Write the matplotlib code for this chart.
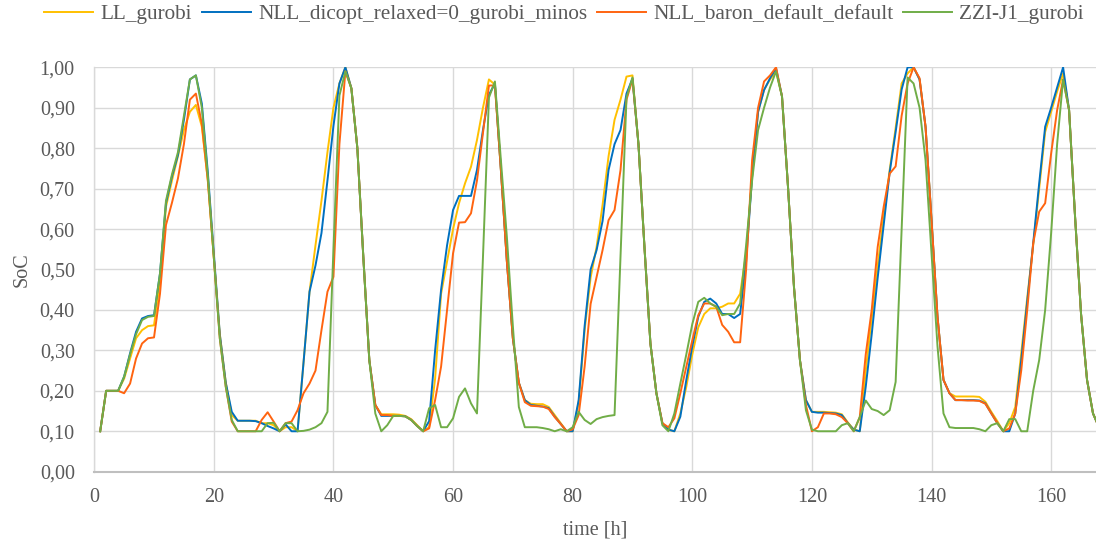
import matplotlib
matplotlib.use("Agg")
import matplotlib.pyplot as plt
from matplotlib.ticker import MultipleLocator, FuncFormatter

hours = list(range(1, 169))

ll_gurobi = [
    0.10, 0.20, 0.20, 0.20, 0.23, 0.28, 0.33, 0.35, 0.36, 0.362,
    0.47, 0.655, 0.72, 0.78, 0.845, 0.89, 0.907, 0.853, 0.72, 0.53,
    0.34, 0.22, 0.14, 0.126, 0.126, 0.126, 0.126, 0.12, 0.12, 0.115,
    0.10, 0.11, 0.11, 0.10, 0.27, 0.445, 0.56, 0.67, 0.79, 0.90,
    0.96, 1.00, 0.948, 0.80, 0.53, 0.276, 0.165, 0.142, 0.142, 0.142,
    0.141, 0.138, 0.13, 0.115, 0.10, 0.11, 0.23, 0.44, 0.52, 0.60,
    0.664, 0.713, 0.754, 0.82, 0.90, 0.97, 0.957, 0.746, 0.52, 0.33,
    0.22, 0.177, 0.168, 0.167, 0.167, 0.16, 0.14, 0.12, 0.10, 0.10,
    0.17, 0.35, 0.48, 0.556, 0.66, 0.78, 0.87, 0.92, 0.977, 0.98,
    0.81, 0.556, 0.317, 0.194, 0.12, 0.104, 0.10, 0.144, 0.21, 0.29,
    0.357, 0.39, 0.404, 0.404, 0.408, 0.416, 0.416, 0.44, 0.54, 0.73,
    0.89, 0.944, 0.97, 0.99, 0.928, 0.705, 0.457, 0.276, 0.177, 0.148,
    0.148, 0.148, 0.147, 0.146, 0.142, 0.122, 0.104, 0.10, 0.25, 0.38,
    0.51, 0.63, 0.746, 0.85, 0.96, 0.985, 1.00, 0.97, 0.853, 0.622,
    0.383, 0.227, 0.194, 0.186, 0.186, 0.186, 0.186, 0.185, 0.173, 0.148,
    0.125, 0.10, 0.12, 0.16, 0.293, 0.43, 0.56, 0.70, 0.84, 0.89,
    0.94, 0.985, 0.894, 0.63, 0.39, 0.227, 0.144, 0.11,
]

nll_dicopt = [
    0.10, 0.20, 0.20, 0.20, 0.235, 0.293, 0.346, 0.379, 0.385, 0.387,
    0.49, 0.664, 0.73, 0.783, 0.87, 0.97, 0.98, 0.91, 0.74, 0.54,
    0.34, 0.22, 0.148, 0.126, 0.126, 0.126, 0.125, 0.12, 0.113, 0.107,
    0.10, 0.117, 0.10, 0.10, 0.27, 0.445, 0.51, 0.59, 0.72, 0.855,
    0.96, 1.00, 0.948, 0.80, 0.53, 0.276, 0.165, 0.138, 0.138, 0.138,
    0.138, 0.137, 0.128, 0.113, 0.10, 0.125, 0.30, 0.45, 0.56, 0.647,
    0.682, 0.682, 0.682, 0.746, 0.845, 0.932, 0.96, 0.746, 0.52, 0.33,
    0.22, 0.177, 0.165, 0.163, 0.161, 0.157, 0.136, 0.118, 0.10, 0.10,
    0.177, 0.36, 0.50, 0.548, 0.62, 0.746, 0.81, 0.845, 0.935, 0.972,
    0.81, 0.556, 0.317, 0.194, 0.12, 0.104, 0.10, 0.136, 0.227, 0.31,
    0.383, 0.42, 0.428, 0.416, 0.39, 0.39, 0.38, 0.39, 0.52, 0.73,
    0.89, 0.944, 0.973, 0.998, 0.928, 0.705, 0.457, 0.276, 0.177, 0.148,
    0.146, 0.146, 0.145, 0.144, 0.14, 0.12, 0.104, 0.10, 0.21, 0.34,
    0.48, 0.61, 0.74, 0.84, 0.945, 1.00, 1.00, 0.97, 0.853, 0.622,
    0.383, 0.227, 0.194, 0.177, 0.177, 0.177, 0.177, 0.176, 0.169, 0.144,
    0.12, 0.10, 0.10, 0.144, 0.276, 0.42, 0.565, 0.713, 0.853, 0.90,
    0.95, 1.00, 0.894, 0.63, 0.39, 0.227, 0.144, 0.11,
]

nll_baron = [
    0.10, 0.20, 0.20, 0.20, 0.194, 0.218, 0.28, 0.317, 0.33, 0.332,
    0.44, 0.61, 0.665, 0.725, 0.81, 0.92, 0.935, 0.86, 0.72, 0.53,
    0.33, 0.21, 0.124, 0.10, 0.10, 0.10, 0.10, 0.128, 0.147, 0.124,
    0.10, 0.12, 0.124, 0.152, 0.194, 0.218, 0.25, 0.35, 0.445, 0.482,
    0.81, 0.99, 0.948, 0.80, 0.53, 0.276, 0.165, 0.14, 0.14, 0.138,
    0.138, 0.137, 0.128, 0.113, 0.10, 0.107, 0.177, 0.26, 0.40, 0.54,
    0.616, 0.617, 0.639, 0.72, 0.837, 0.955, 0.955, 0.746, 0.52, 0.33,
    0.22, 0.172, 0.163, 0.162, 0.161, 0.155, 0.135, 0.118, 0.10, 0.105,
    0.14, 0.26, 0.415, 0.482, 0.548, 0.622, 0.647, 0.746, 0.92, 0.97,
    0.81, 0.556, 0.317, 0.194, 0.12, 0.11, 0.132, 0.194, 0.26, 0.325,
    0.387, 0.416, 0.416, 0.408, 0.363, 0.346, 0.32, 0.32, 0.50, 0.77,
    0.90, 0.965, 0.98, 1.00, 0.928, 0.705, 0.457, 0.276, 0.165, 0.10,
    0.11, 0.144, 0.144, 0.142, 0.135, 0.12, 0.10, 0.135, 0.29, 0.40,
    0.556, 0.655, 0.737, 0.755, 0.88, 0.96, 1.00, 0.973, 0.853, 0.622,
    0.383, 0.227, 0.194, 0.177, 0.177, 0.176, 0.176, 0.175, 0.168, 0.144,
    0.12, 0.10, 0.107, 0.144, 0.25, 0.40, 0.565, 0.643, 0.664, 0.787,
    0.894, 0.97, 0.894, 0.63, 0.39, 0.227, 0.144, 0.11,
]

zzi_j1_gurobi = [
    0.10, 0.20, 0.20, 0.20, 0.235, 0.29, 0.34, 0.375, 0.383, 0.385,
    0.49, 0.67, 0.735, 0.79, 0.88, 0.97, 0.98, 0.90, 0.73, 0.53,
    0.33, 0.21, 0.128, 0.10, 0.10, 0.10, 0.10, 0.10, 0.12, 0.121,
    0.10, 0.12, 0.12, 0.10, 0.101, 0.104, 0.11, 0.12, 0.148, 0.55,
    0.93, 0.99, 0.948, 0.80, 0.53, 0.276, 0.144, 0.10, 0.115, 0.138,
    0.138, 0.137, 0.128, 0.113, 0.10, 0.157, 0.165, 0.11, 0.11, 0.132,
    0.185, 0.206, 0.169, 0.144, 0.53, 0.925, 0.965, 0.77, 0.58, 0.36,
    0.16, 0.11, 0.11, 0.11, 0.108, 0.105, 0.10, 0.105, 0.10, 0.11,
    0.148, 0.128, 0.118, 0.13, 0.135, 0.138, 0.14, 0.53, 0.925, 0.975,
    0.81, 0.556, 0.317, 0.194, 0.115, 0.10, 0.144, 0.218, 0.29, 0.365,
    0.42, 0.43, 0.416, 0.408, 0.387, 0.39, 0.39, 0.416, 0.56, 0.72,
    0.845, 0.90, 0.95, 0.99, 0.928, 0.705, 0.457, 0.276, 0.152, 0.104,
    0.10, 0.10, 0.10, 0.10, 0.115, 0.12, 0.10, 0.135, 0.176, 0.155,
    0.15, 0.14, 0.152, 0.222, 0.60, 0.975, 0.96, 0.90, 0.77, 0.54,
    0.31, 0.144, 0.11, 0.108, 0.108, 0.108, 0.108, 0.105, 0.10, 0.115,
    0.12, 0.10, 0.13, 0.13, 0.10, 0.10, 0.20, 0.276, 0.40, 0.59,
    0.81, 0.97, 0.894, 0.63, 0.39, 0.227, 0.144, 0.11,
]

series_names = ["LL_gurobi", "NLL_dicopt_relaxed=0_gurobi_minos",
                "NLL_baron_default_default", "ZZI-J1_gurobi"]
series_values = [ll_gurobi, nll_dicopt, nll_baron, zzi_j1_gurobi]
series_colors = ["#FFC000", "#0070C0", "#FF6410", "#70AD47"]

x_ticks = [0, 20, 40, 60, 80, 100, 120, 140, 160]

plt.rcParams["font.family"] = ["Liberation Serif", "DejaVu Serif"]
text_color = "#595959"
grid_color = "#D9D9D9"

W, H = 1096, 541
fig = plt.figure(figsize=(W / 100, H / 100), dpi=100)
left, bottom, top = 94.2, 69.3, 67.3
ax_w, ax_h = W - left, H - bottom - top
ax = fig.add_axes([left / W, bottom / H, ax_w / W, ax_h / H])

for name, vals, col in zip(series_names, series_values, series_colors):
    ax.plot(hours, vals, color=col, lw=1.4, label=name, solid_joinstyle="round")

ax.set_xlim(0, 167.5)
ax.set_ylim(0, 1.0)
ax.set_xticks(x_ticks)
ax.yaxis.set_major_locator(MultipleLocator(0.1))
ax.yaxis.set_major_formatter(FuncFormatter(lambda v, _: f"{v:.2f}".replace(".", ",")))

ax.grid(True, color=grid_color, lw=1.0)
ax.set_axisbelow(True)
for side in ("top", "right"):
    ax.spines[side].set_visible(False)
ax.spines["left"].set_color(grid_color)
ax.spines["left"].set_linewidth(1.0)
ax.spines["bottom"].set_color("#BFBFBF")
ax.spines["bottom"].set_linewidth(1.5)

ax.tick_params(axis="both", length=0, labelsize=14.5, labelcolor=text_color)
ax.tick_params(axis="x", pad=12)
ax.tick_params(axis="y", pad=14)

# axis titles, centred at fixed pixel offsets from the plot area
ax.set_xlabel("time [h]", fontsize=14.5, color=text_color, va="center")
ax.xaxis.set_label_coords(0.5, -(530 - (H - bottom)) / ax_h)
ax.set_ylabel("SoC", fontsize=14.5, color=text_color, va="center")
ax.yaxis.set_label_coords(-(left - 22) / ax_w, 0.5)

fig.legend(loc="center", bbox_to_anchor=(564 / W, 1 - 14 / H), ncol=4, frameon=False,
           fontsize=15.3, labelcolor=text_color, handlelength=2.3, handletextpad=0.35,
           columnspacing=0.45, borderaxespad=0)

fig.savefig("out.png", dpi=100)
